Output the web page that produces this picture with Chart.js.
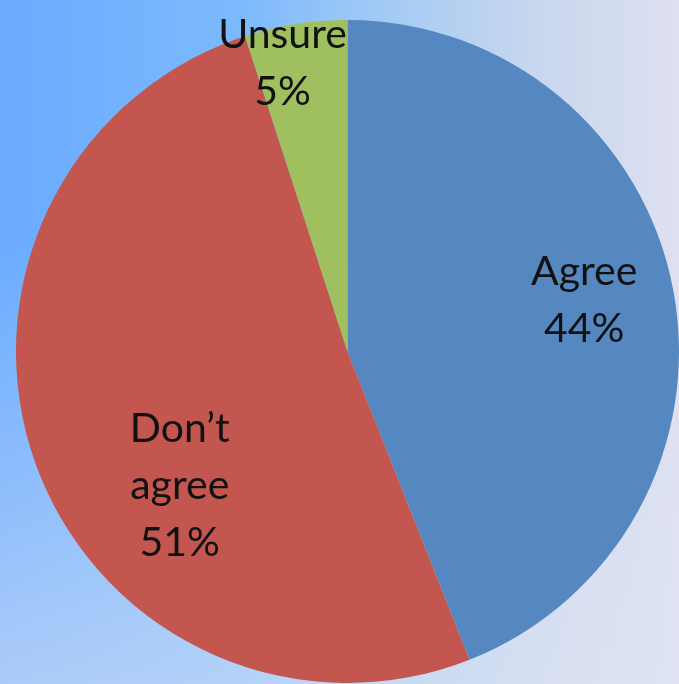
<!DOCTYPE html>
<html lang="en">
<head>
<meta charset="UTF-8">
<title>Agree / Don't agree pie</title>
<style>
html, body { margin:0; padding:0; }
body { width:679px; height:684px; overflow:hidden;
  background:
    linear-gradient(to bottom, rgba(230,234,246,0) 0%, rgba(230,234,246,0) 35%, rgba(225,230,244,0.55) 100%),
    linear-gradient(to right, #6aabff 0%, #7cb9fd 35%, #a9cdf3 60%, #cad7ee 80%, #dde0f1 100%);
}
#wrap { width:679px; height:684px; position:relative; }
</style>
</head>
<body>
<div id="wrap"><canvas id="pie"></canvas></div>
<script src="https://cdn.jsdelivr.net/npm/chart.js"></script>
<script>
const labels = ['Agree', "Don\u2019t agree", 'Unsure'];
const shares = [44, 51, 5];
const labelLines = [['Agree', '44%'], ['Don\u2019t', 'agree', '51%'], ['Unsure', '5%']];
const sliceColors = ['#5587c1', '#c3574f', '#a0bf5e'];

// label placement, in units of the pie radius, from the centre
const labelOffsets = [[0.714, -0.154], [-0.506, 0.404], [-0.196, -0.870]];

const sliceLabels = {
  id: 'sliceLabels',
  afterDatasetsDraw(chart) {
    const ctx = chart.ctx;
    const arcs = chart.getDatasetMeta(0).data;
    ctx.save();
    ctx.font = '41px Lato';
    ctx.fillStyle = '#111';
    ctx.textAlign = 'center';
    ctx.textBaseline = 'middle';
    arcs.forEach((arc, i) => {
      const r = arc.outerRadius;
      const cx = arc.x + labelOffsets[i][0] * r;
      const cy = arc.y + labelOffsets[i][1] * r;
      const lines = labelLines[i];
      const lh = 57;
      lines.forEach((t, j) => {
        ctx.fillText(t, cx, cy + (j - (lines.length - 1) / 2) * lh);
      });
    });
    ctx.restore();
  }
};

new Chart(document.getElementById('pie').getContext('2d'), {
  type: 'pie',
  data: { labels: labels, datasets: [{ data: shares, backgroundColor: sliceColors, borderWidth: 0 }] },
  options: {
    responsive: true,
    maintainAspectRatio: false,
    animation: false,
    layout: { padding: { top: 19, bottom: 0, left: 16, right: 0 } },
    plugins: { legend: { display: false }, tooltip: { enabled: false } }
  },
  plugins: [sliceLabels]
});
</script>
</body>
</html>
